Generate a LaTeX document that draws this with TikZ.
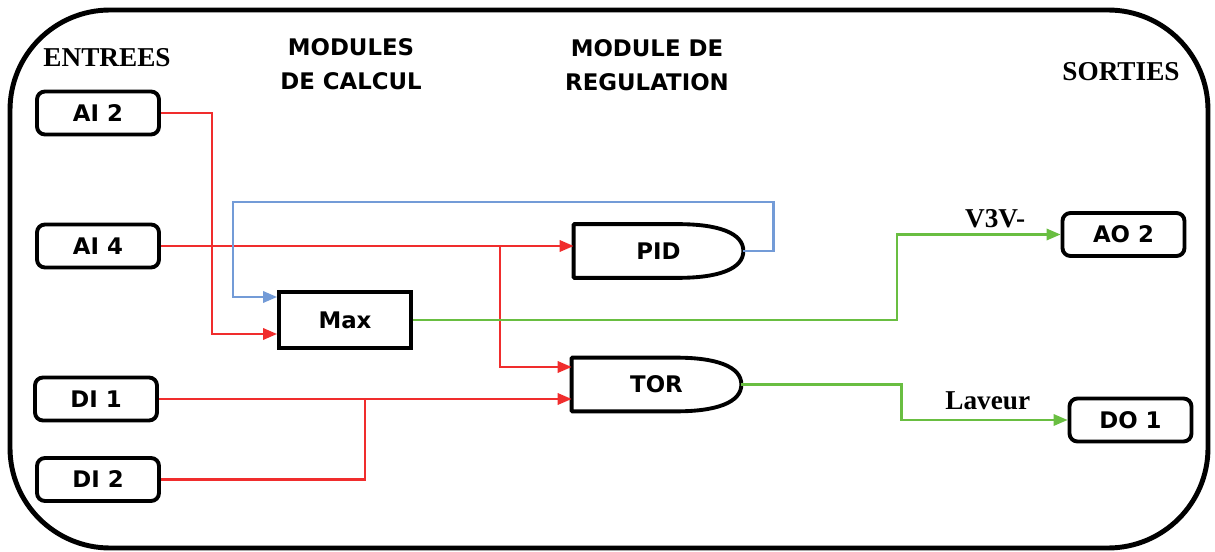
\documentclass[tikz,border=0pt]{standalone}
\usepackage{fontspec}
\setmainfont{Liberation Serif}
\newfontfamily\boxfont{DejaVu Sans}
\usetikzlibrary{positioning}
\usetikzlibrary{arrows.meta}

\definecolor{sigred}{RGB}{240,45,45}
\definecolor{sigblue}{RGB}{115,155,215}
\definecolor{siggreen}{RGB}{105,190,65}

\tikzset{
  io/.style={draw, line width=2.2pt, rounded corners=0.16cm, minimum width=2.44cm, minimum height=0.86cm, font=\boxfont\bfseries\fontsize{13}{15}\selectfont},
  calcbox/.style={draw, line width=2.2pt, minimum width=2.64cm, minimum height=1.12cm, font=\boxfont\bfseries\fontsize{13}{15}\selectfont},
  gate/.style={minimum width=3.38cm, minimum height=1.06cm, inner sep=0pt, font=\boxfont\bfseries\fontsize{13}{15}\selectfont},
  title/.style={align=center, font=\boxfont\bfseries\fontsize{13}{19.4}\selectfont},
  head/.style={text=black, font=\bfseries\fontsize{15.5}{18}\selectfont},
  wire/.style={line width=1.3pt},
  sig/.style={wire, -{Triangle[length=8pt,width=6.5pt]}},
}

\begin{document}
\begin{tikzpicture}[x=2cm,y=2cm]
\useasboundingbox (0,0) rectangle (12.15,5.51);
\draw[line width=2.8pt, rounded corners=2cm] (0.10,0.03) rectangle (12.08,5.41);

% titres
\node[head] (entrees) at (1.07,4.93) {ENTREES};
\node[title] (calcul) at (3.51,4.87) {MODULES\\DE CALCUL};
\node[title] (regul) at (6.47,4.86) {MODULE DE\\REGULATION};
\node[head] (sorties) at (11.21,4.79) {SORTIES};

% entrees / sorties
\node[io] (ai2) at (0.98,4.38) {AI 2};
\node[io] (ai4) at (0.98,3.05) {AI 4};
\node[io] (di1) at (0.96,1.52) {DI 1};
\node[io] (di2) at (0.98,0.715) {DI 2};
\node[io] (ao2) at (11.235,3.165) {AO 2};
\node[io] (do1) at (11.305,1.31) {DO 1};

% modules
\node[calcbox] (max) at (3.45,2.31) {Max};
\node[gate] (pid) at (6.585,3.00) {PID};
\node[gate] (tor) at (6.565,1.665) {TOR};
\foreach \g in {pid,tor} {
\draw[line width=2.2pt, line join=round] (\g.north west) -- ([xshift=-1.3cm]\g.north east)
  .. controls ([xshift=-0.5cm]\g.north east) and ([yshift=0.36cm]\g.east) .. (\g.east)
  .. controls ([yshift=-0.36cm]\g.east) and ([xshift=-0.5cm]\g.south east) .. ([xshift=-1.3cm]\g.south east)
  -- (\g.south west) -- cycle;
}

% liaisons
\coordinate (merge) at (3.65,1.52);
\draw[sig, sigred] (ai2.east) -- ++(0.51,0) |- ([yshift=-0.28cm]max.west);
\draw[sig, sigred] (ai4.east) -- ++(3.39,0) coordinate (split) -- (ai4.east -| pid.west);
\draw[sig, sigred] (split) |- ([yshift=0.35cm]tor.west);
\draw[sig, sigred] (di1.east) -- (di1.east -| tor.west);
\draw[wire, sigred] (di2.east) -| (merge);
\draw[sig, sigblue] (pid.east) -- ++(0.30,0) |- (2.33,3.49) |- ([yshift=0.46cm]max.west);
\draw[sig, siggreen] (max.east) -- ++(4.84,0) |- node[head, pos=0.8, above] {V3V-} (ao2.west);
\draw[sig, siggreen] (tor.east) -- ++(1.60,0) |- node[head, pos=0.76, above=2pt] {Laveur} (do1.west);
\end{tikzpicture}
\end{document}
